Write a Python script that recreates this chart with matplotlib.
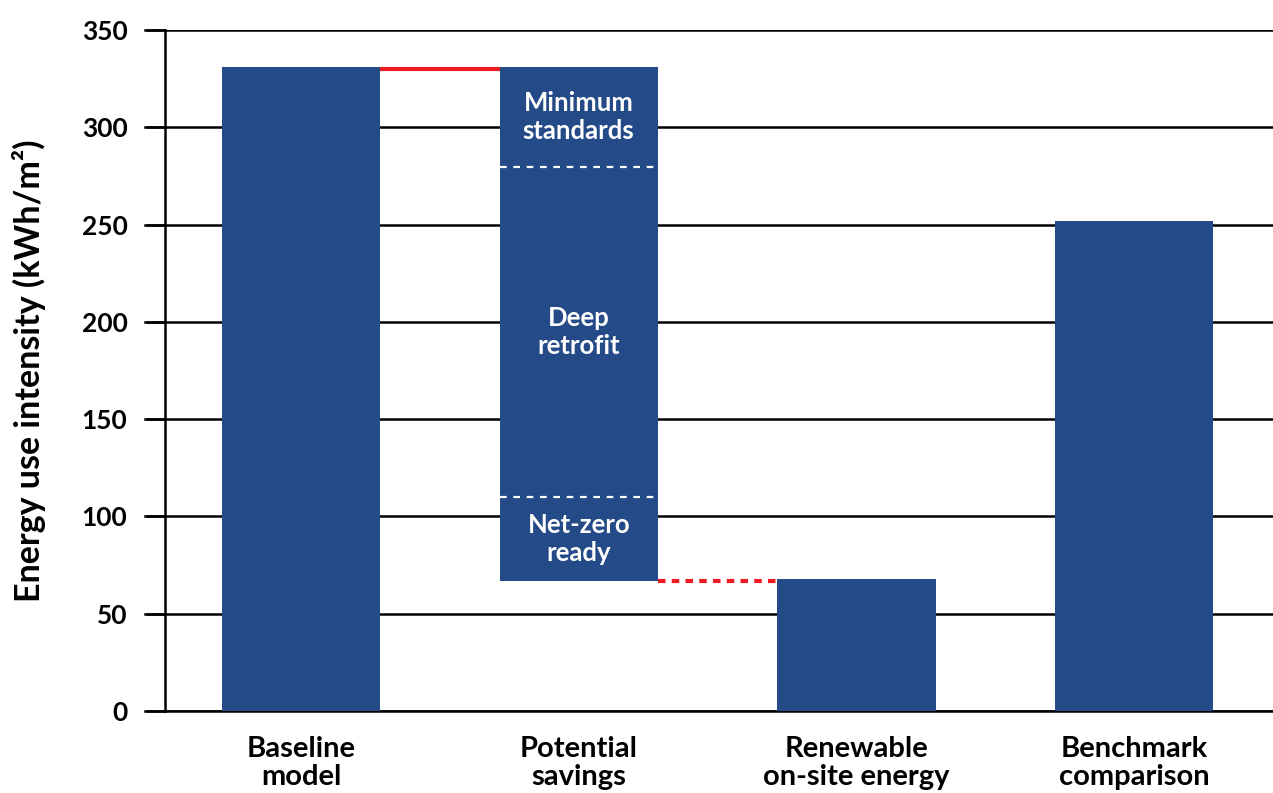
import matplotlib
matplotlib.use("Agg")
import matplotlib.pyplot as plt

plt.rcParams['font.family'] = ['Lato', 'DejaVu Sans']
plt.rcParams['font.weight'] = 'bold'

categories = ["Baseline\nmodel", "Potential\nsavings", "Renewable\non-site energy", "Benchmark\ncomparison"]
baseline = 331
# boundaries of the savings bar, top to bottom
savings_levels = [331, 279.5, 110, 67]
savings_labels = ["Minimum\nstandards", "Deep\nretrofit", "Net-zero\nready"]
renewable = 68
benchmark = 252

bar_color = "#244A87"
bar_w = 0.57

fig = plt.figure(figsize=(12.73, 7.93), dpi=100)
ax = fig.add_axes([0.1296, 0.1034, 0.8704, 0.8588])

x = range(len(categories))
ax.bar(0, baseline, width=bar_w, color=bar_color, zorder=3)
ax.bar(1, savings_levels[0] - savings_levels[-1], bottom=savings_levels[-1],
       width=bar_w, color=bar_color, zorder=3)
ax.bar(2, renewable, width=bar_w, color=bar_color, zorder=3)
ax.bar(3, benchmark, width=bar_w, color=bar_color, zorder=3)

# dashed dividers inside the savings bar
for lev in savings_levels[1:-1]:
    ax.plot([1 - bar_w / 2, 1 + bar_w / 2], [lev, lev], color="white",
            linestyle=(0, (3, 3)), linewidth=1.6, zorder=4)

# segment labels
for i, lab in enumerate(savings_labels):
    mid = (savings_levels[i] + savings_levels[i + 1]) / 2
    ax.text(1, mid, lab, color="white", ha="center", va="center",
            fontsize=18.5, fontweight="bold", linespacing=1.2, zorder=5)

# connectors
ax.plot([0 + bar_w / 2, 1 - bar_w / 2], [baseline - 1, baseline - 1],
        color="#ED1C24", linewidth=3, zorder=4, solid_capstyle="butt")
ax.plot([1 + bar_w / 2, 2 - bar_w / 2], [savings_levels[-1], savings_levels[-1]],
        color="#ED1C24", linewidth=3, linestyle=(0, (1.8, 1.5)), zorder=4)

ax.set_xlim(-0.49, 3.5)
ax.set_ylim(0, 350)
ax.set_yticks(range(0, 351, 50))
ax.set_xticks(list(x))
ax.set_xticklabels(categories, fontsize=21, fontweight="bold", linespacing=1.08)
ax.tick_params(axis="x", length=0, pad=18)
ax.tick_params(axis="y", length=14, width=1.8, pad=13, labelsize=19)
for t in ax.get_yticklabels():
    t.set_fontweight("bold")

ax.yaxis.grid(True, color="black", linewidth=1.8, zorder=0)
ax.set_axisbelow(True)
for s in ["top", "right"]:
    ax.spines[s].set_visible(False)
ax.spines["left"].set_linewidth(1.8)
ax.spines["bottom"].set_linewidth(1.8)

ax.set_ylabel("Energy use intensity (kWh/m²)", fontsize=24.5, fontweight="bold")
ax.yaxis.set_label_coords(-0.107, 0.5)

# extend gridlines left to the tick ends
for lev in range(0, 351, 50):
    ax.plot([-0.49 - 0.072, -0.49], [lev, lev], color="black", linewidth=1.8,
            clip_on=False, zorder=1)

fig.savefig("out.png", dpi=100)
